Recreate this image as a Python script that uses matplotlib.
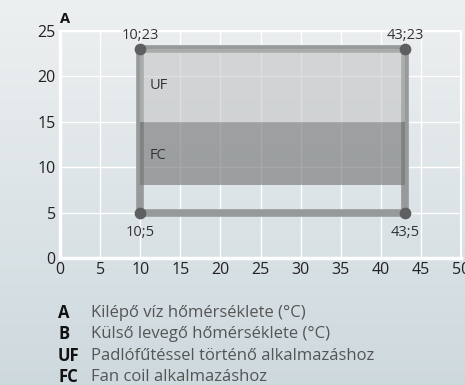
import matplotlib.pyplot as plt
import numpy as np

plt.rcParams['font.family'] = ['Open Sans', 'DejaVu Sans']

# working envelope corners (outside air temp ; leaving water temp)
corner_x = [10, 43, 43, 10]
corner_y = [5, 5, 23, 23]
corner_labels = ['10;5', '43;5', '43;23', '10;23']

# application bands
uf_band = (15, 23)
fc_band = (8, 15)

x_ticks = [0, 5, 10, 15, 20, 25, 30, 35, 40, 45, 50]
y_ticks = [0, 5, 10, 15, 20, 25]

legend_keys = ['A', 'B', 'UF', 'FC']
legend_texts = ['Kilépő víz hőmérséklete (°C)',
                'Külső levegő hőmérséklete (°C)',
                'Padlófűtéssel történő alkalmazáshoz',
                'Fan coil alkalmazáshoz']

fig = plt.figure(figsize=(4.65, 3.85), dpi=100)

# soft vertical gradient behind everything
bg = fig.add_axes([0, 0, 1, 1], zorder=-10)
top = np.array([237, 240, 241]) / 255
bot = np.array([206, 217, 222]) / 255
t = np.linspace(0, 1, 256)[:, None]
grad = top[None, :] * (1 - t) + bot[None, :] * t
bg.imshow(grad[:, None, :], aspect='auto', extent=[0, 1, 0, 1])
bg.axis('off')

ax = fig.add_axes([60 / 465, 1 - 258 / 385, 401 / 465, 227 / 385])
ax.set_facecolor('none')
ax.set_xlim(0, 50)
ax.set_ylim(0, 25)
ax.set_xticks(x_ticks)
ax.set_yticks(y_ticks)
ax.grid(color='white', linewidth=1.0)
ax.set_axisbelow(True)
for side in ['left', 'bottom']:
    ax.spines[side].set_color('white')
    ax.spines[side].set_linewidth(2.5)
for side in ['top', 'right']:
    ax.spines[side].set_color('white')
    ax.spines[side].set_linewidth(1.5)
ax.tick_params(length=0, labelsize=11.5, colors='#222222', pad=3)

# envelope outline
ox = corner_x + [corner_x[0]]
oy = corner_y + [corner_y[0]]
ax.plot(ox, oy, color='#979a9b', linewidth=5.5, solid_joinstyle='miter', zorder=2)

x0, x1 = min(corner_x), max(corner_x)
ax.fill_between([x0, x1], uf_band[0], uf_band[1], color=(190/255,)*3, alpha=0.5,
                linewidth=0, zorder=3)
ax.fill_between([x0, x1], fc_band[0], fc_band[1], color=(114/255,)*3, alpha=0.61,
                linewidth=0, zorder=3)

ax.scatter(corner_x, corner_y, s=55, color='#5e5f60', zorder=4, clip_on=False)
for cx, cy, lab in zip(corner_x, corner_y, corner_labels):
    dy = -14 if cy < 10 else 10
    ax.annotate(lab, (cx, cy), xytext=(0, dy), textcoords='offset points',
                ha='center', va='center', fontsize=10.5, color='#333333')

ax.text(11.2, 19, 'UF', fontsize=10.5, color='#333333', va='center')
ax.text(11.2, 11.3, 'FC', fontsize=10.5, color='#333333', va='center')

fig.text(60 / 465, 1 - 19 / 385, 'A', fontsize=10.5, fontweight='bold',
         color='#111111', va='center')

for i, (k, txt) in enumerate(zip(legend_keys, legend_texts)):
    y = 1 - (313 + i * 21.3) / 385
    fig.text(58 / 465, y, k, fontsize=12, fontweight='bold', color='#111111',
             va='center')
    fig.text(91 / 465, y, txt, fontsize=12, color='#555555', va='center')

fig.savefig('out.png', dpi=100)
